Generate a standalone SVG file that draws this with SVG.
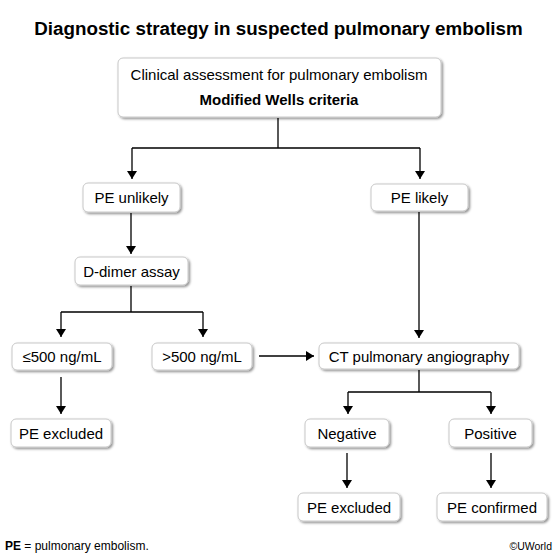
<svg xmlns="http://www.w3.org/2000/svg" width="557" height="557" viewBox="0 0 557 557">
<defs>
<filter id="sh" x="-10%" y="-20%" width="130%" height="160%">
<feDropShadow dx="1.5" dy="1.5" stdDeviation="1.2" flood-color="#000" flood-opacity="0.45"/>
</filter>
<marker id="ah" markerWidth="8" markerHeight="10" refX="8" refY="5" orient="auto" markerUnits="userSpaceOnUse">
<path d="M0,0 L8,5 L0,10 Z" fill="#000"/>
</marker>
<style>
.box{fill:#fff;stroke:#c8c8c8;stroke-width:1;filter:url(#sh)}
.t{font-family:"Liberation Sans",Arial,sans-serif;font-size:15px;fill:#000;text-anchor:middle}
.b{font-weight:bold}
.c{fill:none;stroke:#000;stroke-width:1.3}
</style>
</defs>
<rect width="557" height="557" fill="#fff"/>
<text x="278.5" y="35" class="t b" style="font-size:18.8px">Diagnostic strategy in suspected pulmonary embolism</text>

<g id="connectors">
<path class="c" d="M278,118 V148 M132,148 H420"/>
<path class="c" d="M132,148 V179" marker-end="url(#ah)"/>
<path class="c" d="M420,148 V179" marker-end="url(#ah)"/>
<path class="c" d="M131,213 V254" marker-end="url(#ah)"/>
<path class="c" d="M131,286 V312 M61,312 H203"/>
<path class="c" d="M61,312 V337" marker-end="url(#ah)"/>
<path class="c" d="M203,312 V337" marker-end="url(#ah)"/>
<path class="c" d="M61,377 V414" marker-end="url(#ah)"/>
<path class="c" d="M259,356 H314" marker-end="url(#ah)"/>
<path class="c" d="M419,212 V338" marker-end="url(#ah)"/>
<path class="c" d="M419,370 V392 M348,392 H491"/>
<path class="c" d="M348,392 V414" marker-end="url(#ah)"/>
<path class="c" d="M491,392 V414" marker-end="url(#ah)"/>
<path class="c" d="M347,453 V488" marker-end="url(#ah)"/>
<path class="c" d="M491,453 V488" marker-end="url(#ah)"/>
</g>

<g id="clinical">
<rect class="box" x="118" y="58" width="323" height="59" rx="5"/>
<text class="t" x="279" y="80">Clinical assessment for pulmonary embolism</text>
<text class="t b" x="279" y="105">Modified Wells criteria</text>
</g>
<g id="pe-unlikely">
<rect class="box" x="83" y="183" width="97" height="29" rx="5"/>
<text class="t" x="131.5" y="203">PE unlikely</text>
</g>
<g id="pe-likely">
<rect class="box" x="371" y="184" width="97" height="27" rx="5"/>
<text class="t" x="419.5" y="203">PE likely</text>
</g>
<g id="d-dimer">
<rect class="box" x="75" y="257" width="113" height="28" rx="5"/>
<text class="t" x="131.5" y="276.5">D-dimer assay</text>
</g>
<g id="low">
<rect class="box" x="12" y="343" width="100" height="27" rx="5"/>
<text class="t" x="62" y="362">≤500 ng/mL</text>
</g>
<g id="high">
<rect class="box" x="152" y="343" width="100" height="27" rx="5"/>
<text class="t" x="202" y="362">&gt;500 ng/mL</text>
</g>
<g id="excluded-1">
<rect class="box" x="11" y="419" width="100" height="28" rx="5"/>
<text class="t" x="61" y="438.5">PE excluded</text>
</g>
<g id="ct">
<rect class="box" x="319" y="343" width="200" height="26" rx="5"/>
<text class="t" x="419" y="361.5">CT pulmonary angiography</text>
</g>
<g id="negative">
<rect class="box" x="305" y="419" width="84" height="28" rx="5"/>
<text class="t" x="347" y="438.5">Negative</text>
</g>
<g id="positive">
<rect class="box" x="449" y="419" width="83" height="28" rx="5"/>
<text class="t" x="490.5" y="438.5">Positive</text>
</g>
<g id="excluded-2">
<rect class="box" x="298" y="493" width="102" height="28" rx="5"/>
<text class="t" x="349" y="512.5">PE excluded</text>
</g>
<g id="confirmed">
<rect class="box" x="437" y="493" width="110" height="28" rx="5"/>
<text class="t" x="492" y="512.5">PE confirmed</text>
</g>

<text x="5" y="550" style="font-family:'Liberation Sans',Arial,sans-serif;font-size:12px"><tspan font-weight="bold">PE</tspan> = pulmonary embolism.</text>
<text x="552" y="550" text-anchor="end" style="font-family:'Liberation Sans',Arial,sans-serif;font-size:10.5px">©UWorld</text>
</svg>
